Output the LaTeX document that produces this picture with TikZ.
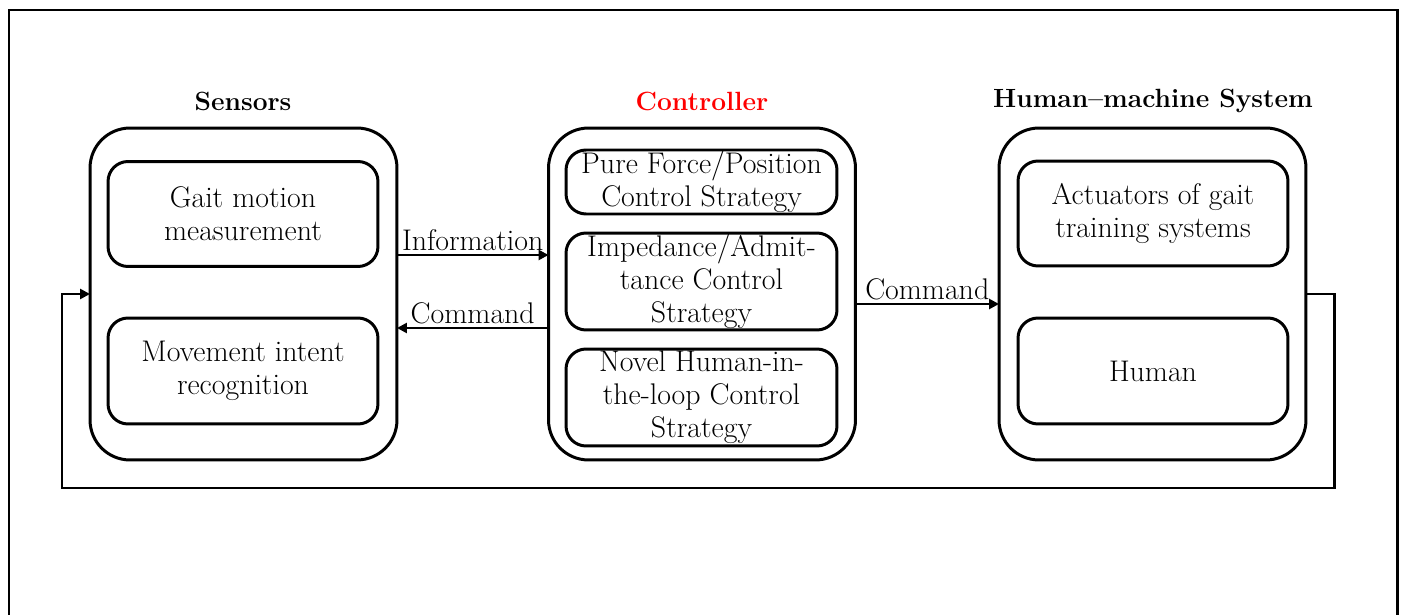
\documentclass[tikz,border=0pt]{standalone}
\usetikzlibrary{arrows.meta}
\begin{document}
\begin{tikzpicture}[x=0.02cm,y=-0.02cm,
  every node/.style={font=\fontsize{17}{18.8}\selectfont},
  group/.style={draw,line width=1.7pt,rounded corners=0.8cm,minimum width=6.14cm,minimum height=6.64cm,inner sep=0pt,outer sep=0pt},
  part/.style={draw,line width=1.7pt,rounded corners=0.4cm,minimum width=5.4cm,align=center,inner sep=0pt,outer sep=0pt},
  title/.style={font=\fontsize{15}{17}\selectfont\bfseries},
  link/.style={line width=1.7pt,-{Triangle[length=0.2cm,width=0.2cm]}},
  lbl/.style={inner sep=1.5pt}]
\useasboundingbox (0,0) rectangle (1404,615);
% open frame round the figure
\draw[line width=1.7pt] (9,615) -- (9,10) -- (1397,10) -- (1397,615);

% titles
\node[title] (tsens) at (243,101) {Sensors};
\node[title,text=red] (tctrl) at (702,101) {Controller};
\node[title] (thm) at (1153,101) {Human--machine System};

% sensors
\node[group] (sens) at (243.5,294) {};
\node[part,minimum height=2.1cm] (gait) at (243,214) {Gait motion\\measurement};
\node[part,minimum height=2.12cm] (intent) at (243,371) {Movement intent\\recognition};

% controller
\node[group] (ctrl) at (702,294) {};
\node[part,minimum width=5.42cm,minimum height=1.28cm] (pure) at (701.5,182) {Pure Force/Position\\Control Strategy};
\node[part,minimum width=5.42cm,minimum height=1.94cm] (imp) at (701.5,281.5) {Impedance/Admit-\\tance Control\\Strategy};
\node[part,minimum width=5.42cm,minimum height=1.94cm] (novel) at (701.5,397.5) {Novel Human-in-\\the-loop Control\\Strategy};

% human-machine system
\node[group] (hm) at (1152.5,294) {};
\node[part,minimum height=2.1cm] (act) at (1153,213.5) {Actuators of gait\\training systems};
\node[part,minimum height=2.12cm] (human) at (1153,371) {Human};

% connectors
\draw[link] (sens.east |- 0,255) -- node[lbl,above] {Information} (ctrl.west |- 0,255);
\draw[link] (ctrl.west |- 0,328) -- node[lbl,above] {Command} (sens.east |- 0,328);
\draw[link] (ctrl.east |- 0,304) -- node[lbl,above] {Command} (hm.west |- 0,304);

% feedback loop
\coordinate (lr) at (1334,488);
\coordinate (ll) at (62,488);
\draw[link] (hm.east) -| (lr) -- (ll) |- (sens.west);
\end{tikzpicture}
\end{document}
